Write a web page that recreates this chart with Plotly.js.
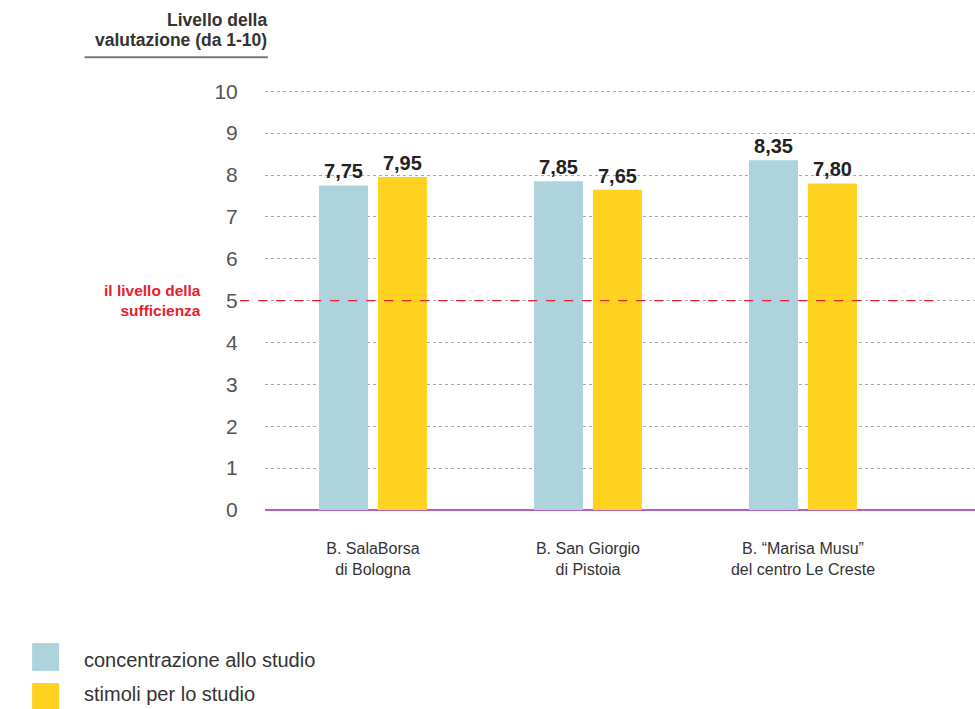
<!DOCTYPE html>
<html><head><meta charset="utf-8">
<script src="https://cdn.plot.ly/plotly-3.0.1.min.js"></script>
<style>html,body{margin:0;padding:0;background:#fff}#chart{width:975px;height:709px}</style>
</head><body><div id="chart"></div>
<script>
const categories = ["B. SalaBorsa<br>di Bologna", "B. San Giorgio<br>di Pistoia", "B. “Marisa Musu”<br>del centro Le Creste"];
const seriesNames = ["concentrazione allo studio", "stimoli per lo studio"];
const concentrazione = [7.75, 7.85, 8.35];
const stimoli = [7.95, 7.65, 7.80];
const yTicks = [0,1,2,3,4,5,6,7,8,9,10];
const sufficienza = 5;
const titleLines = ["Livello della", "valutazione (da 1-10)"];
const colors = ["#add3df", "#ffd21f"];

const F = "Liberation Sans, Arial, Helvetica, sans-serif";
const xIdx = categories.map((c,i)=>i);

const mk = (vals, i, off) => ({
  type: 'bar', x: xIdx, y: vals, name: seriesNames[i],
  width: 0.228, offset: off,
  marker: {color: colors[i]},
  text: vals, texttemplate: '%{y:.2f}', textposition: 'outside',
  textfont: {family: F, size: 20, color: '#222', weight: 'bold'},
  cliponaxis: false, showlegend: false, hoverinfo: 'skip'
});

const data = [mk(concentrazione, 0, -0.251), mk(stimoli, 1, 0.023)];

const annotations = [
  {xref:'paper', yref:'y', x:-0.088, y:sufficienza, xanchor:'right', yanchor:'middle', align:'right',
   text:'<b>il livello della<br>sufficienza</b>', showarrow:false,
   font:{family:F, size:15.5, color:'#e8202a'}},
];
titleLines.forEach((t,i)=>{
  annotations.push({xref:'paper', yref:'paper', x:0.006, y:1.167 - i*0.048, xanchor:'right', yanchor:'middle',
    text:'<b>'+t+'</b>', showarrow:false, font:{family:F, size:17.5, color:'#333'}});
});
const shapes = [
  {type:'line', xref:'paper', yref:'paper', x0:-0.254, x1:0.004, y0:1.078, y1:1.078,
   line:{color:'#777', width:2}},
  {type:'line', xref:'paper', yref:'y', x0:-0.035, x1:0.948, y0:sufficienza, y1:sufficienza,
   line:{color:'#e8202a', width:1.2, dash:'dash'}}
];
// custom legend
seriesNames.forEach((n,i)=>{
  const yTop = -0.317 - i*0.095;
  shapes.push({type:'rect', xref:'paper', yref:'paper', x0:-0.328, x1:-0.290, y0:yTop, y1:yTop-0.066,
    fillcolor:colors[i], line:{width:0}});
  annotations.push({xref:'paper', yref:'paper', x:-0.256, y:-0.357 - i*0.081, xanchor:'left', yanchor:'middle',
    borderpad:0, text:n, showarrow:false, font:{family:F, size:20, color:'#333'}});
});

const layout = {
  width: 975, height: 709,
  margin: {l: 265, r: 0, t: 90, b: 199},
  paper_bgcolor: '#fff', plot_bgcolor: '#fff',
  separators: ',.',
  font: {family: F},
  xaxis: {range: [-0.502, 2.8], tickvals: xIdx, ticktext: categories,
    showgrid: false, zeroline: false, showline: true, linecolor: '#b55fc0', linewidth: 1.2,
    ticks: 'outside', ticklen: 24, tickcolor: 'rgba(0,0,0,0)',
    tickfont: {family: F, size: 16, color: '#333'}, fixedrange: true},
  yaxis: {range: [0, 10.03], tickvals: yTicks, ticktext: yTicks.map(String),
    showgrid: true, gridcolor: '#aaa', griddash: 'dot', gridwidth: 1,
    zeroline: true, zerolinecolor: '#b55fc0', zerolinewidth: 1.2,
    ticks: 'outside', ticklen: 22, tickcolor: 'rgba(0,0,0,0)',
    tickfont: {family: F, size: 21, color: '#555'}, fixedrange: true},
  annotations, shapes, showlegend: false
};
Plotly.newPlot('chart', data, layout, {displayModeBar: false, staticPlot: true});
</script></body></html>
